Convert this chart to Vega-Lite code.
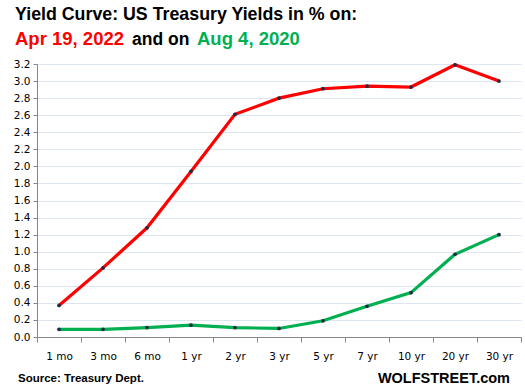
{
  "$schema": "https://vega.github.io/schema/vega-lite/v6.json",
  "width": 484,
  "height": 273,
  "autosize": {"type": "none"},
  "padding": {"left": 37, "top": 64, "right": 4, "bottom": 55},
  "background": "white",
  "config": {"view": {"stroke": null}, "font": "Liberation Sans"},
  "data": {
    "values": [
      {"m": "1 mo", "d": "Apr 19, 2022", "y": 0.37},
      {"m": "3 mo", "d": "Apr 19, 2022", "y": 0.81},
      {"m": "6 mo", "d": "Apr 19, 2022", "y": 1.28},
      {"m": "1 yr", "d": "Apr 19, 2022", "y": 1.94},
      {"m": "2 yr", "d": "Apr 19, 2022", "y": 2.61},
      {"m": "3 yr", "d": "Apr 19, 2022", "y": 2.80},
      {"m": "5 yr", "d": "Apr 19, 2022", "y": 2.91},
      {"m": "7 yr", "d": "Apr 19, 2022", "y": 2.94},
      {"m": "10 yr", "d": "Apr 19, 2022", "y": 2.93},
      {"m": "20 yr", "d": "Apr 19, 2022", "y": 3.19},
      {"m": "30 yr", "d": "Apr 19, 2022", "y": 3.00},
      {"m": "1 mo", "d": "Aug 4, 2020", "y": 0.09},
      {"m": "3 mo", "d": "Aug 4, 2020", "y": 0.09},
      {"m": "6 mo", "d": "Aug 4, 2020", "y": 0.11},
      {"m": "1 yr", "d": "Aug 4, 2020", "y": 0.14},
      {"m": "2 yr", "d": "Aug 4, 2020", "y": 0.11},
      {"m": "3 yr", "d": "Aug 4, 2020", "y": 0.10},
      {"m": "5 yr", "d": "Aug 4, 2020", "y": 0.19},
      {"m": "7 yr", "d": "Aug 4, 2020", "y": 0.36},
      {"m": "10 yr", "d": "Aug 4, 2020", "y": 0.52},
      {"m": "20 yr", "d": "Aug 4, 2020", "y": 0.97},
      {"m": "30 yr", "d": "Aug 4, 2020", "y": 1.20}
    ]
  },
  "encoding": {
    "x": {
      "field": "m", "type": "ordinal", "sort": null,
      "scale": {"type": "band", "paddingInner": 0, "paddingOuter": 0},
      "axis": {
        "title": null, "labelAngle": 0, "grid": false, "tickBand": "extent",
        "domainColor": "#868686", "tickColor": "#868686", "tickSize": 5,
        "labelFont": "DejaVu Sans", "labelFontSize": 10.5, "labelColor": "#000000",
        "labelPadding": 9
      }
    },
    "y": {
      "field": "y", "type": "quantitative",
      "scale": {"domain": [0, 3.2], "nice": false},
      "axis": {
        "title": null, "values": [0, 0.2, 0.4, 0.6, 0.8, 1.0, 1.2, 1.4, 1.6, 1.8, 2.0, 2.2, 2.4, 2.6, 2.8, 3.0, 3.2],
        "format": ".1f", "gridColor": "#dce6f2", "gridWidth": 1,
        "domainColor": "#868686", "tickColor": "#868686", "tickSize": 4,
        "labelFont": "DejaVu Sans", "labelFontSize": 10.5, "labelColor": "#000000",
        "labelPadding": 3
      }
    }
  },
  "layer": [
    {
      "mark": {"type": "line", "strokeWidth": 3.2},
      "encoding": {
        "color": {"field": "d", "type": "nominal", "legend": null,
          "scale": {"domain": ["Apr 19, 2022", "Aug 4, 2020"], "range": ["#ff0000", "#00b050"]}}
      }
    },
    {
      "mark": {"type": "point", "filled": true, "size": 14, "color": "#1f2a44", "opacity": 1}
    },
    {
      "data": {"values": [{"t": "Yield Curve: US Treasury  Yields in % on:"}]},
      "mark": {"type": "text", "align": "left", "baseline": "alphabetic", "font": "Liberation Sans", "fontWeight": "bold", "fontSize": 17.8, "color": "#000000", "x": -22, "y": -44},
      "encoding": {"text": {"field": "t"}, "x": null, "y": null}
    },
    {
      "data": {"values": [{"t": "Apr 19, 2022"}]},
      "mark": {"type": "text", "align": "left", "baseline": "alphabetic", "font": "Liberation Sans", "fontWeight": "bold", "fontSize": 18.5, "color": "#ff0000", "x": -22, "y": -19},
      "encoding": {"text": {"field": "t"}, "x": null, "y": null}
    },
    {
      "data": {"values": [{"t": "and on"}]},
      "mark": {"type": "text", "align": "left", "baseline": "alphabetic", "font": "Liberation Sans", "fontWeight": "bold", "fontSize": 17.5, "color": "#000000", "x": 95, "y": -19},
      "encoding": {"text": {"field": "t"}, "x": null, "y": null}
    },
    {
      "data": {"values": [{"t": "Aug 4, 2020"}]},
      "mark": {"type": "text", "align": "left", "baseline": "alphabetic", "font": "Liberation Sans", "fontWeight": "bold", "fontSize": 18.5, "color": "#00b050", "x": 160, "y": -19},
      "encoding": {"text": {"field": "t"}, "x": null, "y": null}
    },
    {
      "data": {"values": [{"t": "Source: Treasury Dept."}]},
      "mark": {"type": "text", "align": "left", "baseline": "alphabetic", "font": "Liberation Sans", "fontWeight": "bold", "fontSize": 11.5, "color": "#000000", "x": -19},
      "encoding": {"text": {"field": "t"}, "x": null, "y": {"value": 318}}
    },
    {
      "data": {"values": [{"t": "WOLFSTREET.com"}]},
      "mark": {"type": "text", "align": "right", "baseline": "alphabetic", "font": "Liberation Sans", "fontWeight": "bold", "fontSize": 14.5, "color": "#000000", "x": 473},
      "encoding": {"text": {"field": "t"}, "x": null, "y": {"value": 319}}
    }
  ]
}
